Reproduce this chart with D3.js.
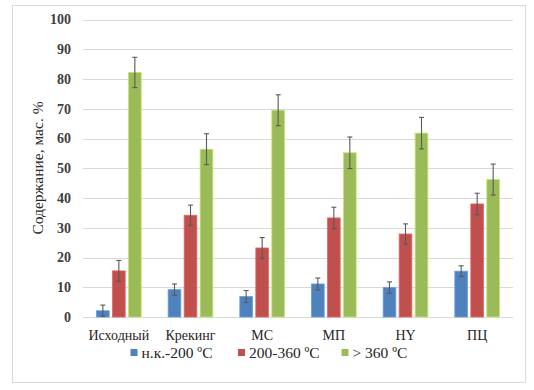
<!DOCTYPE html>
<html>
<head>
<meta charset="utf-8">
<script src="https://cdn.jsdelivr.net/npm/d3@7"></script>
<style>
	body{margin:0;background:#fff;}
	svg text{font-family:"Liberation Serif","Tinos","Times New Roman","DejaVu Serif",serif !important;}
</style>
</head>
<body>
<div id="chart"></div>
<script>
// data
var categories = ["Исходный", "Крекинг", "МС", "МП", "НY", "ПЦ"];
var seriesNames = ["н.к.-200 ºC", "200-360 ºC", "> 360 ºC"];
var lowValues = [2.1, 9.2, 6.9, 11.1, 9.9, 15.4];
var midValues = [15.5, 34.2, 23.2, 33.3, 27.9, 38.0];
var highValues = [82.2, 56.4, 69.5, 55.2, 61.8, 46.2];
var lowErr = [1.9, 1.9, 2.0, 2.0, 1.9, 1.8];
var midErr = [3.5, 3.4, 3.5, 3.6, 3.4, 3.6];
var highErr = [5.1, 5.2, 5.2, 5.3, 5.3, 5.2];
var yTicks = [0, 10, 20, 30, 40, 50, 60, 70, 80, 90, 100];
var colors = ["#4f81bd", "#c0504d", "#9bbb59"];

;(function(d3){
	var width = 534, height = 390;
	var svg = d3.select("#chart").append("svg").attr("width", width).attr("height", height);

	// outer frame
	svg.append("rect").attr("x", 12.5).attr("y", 5.5).attr("width", 513).attr("height", 377)
		.attr("fill", "#fff").attr("stroke", "#d9d9d9").attr("stroke-width", 1);

	var x = d3.scaleBand().domain(categories).range([83, 513]),
		y = d3.scaleLinear().domain([0, 100]).range([317, 19.5]);
	var barW = 12.7, step = 16;

	// grid
	svg.append("g").selectAll("line").data(yTicks).join("line")
		.attr("x1", 83).attr("x2", 513)
		.attr("y1", function(d){ return Math.round(y(d)) + .5; })
		.attr("y2", function(d){ return Math.round(y(d)) + .5; })
		.attr("stroke", "#d9d9d9").attr("stroke-width", 1);

	// y axis labels
	var yAxis = svg.append("g").attr("transform", "translate(83,0)")
		.call(d3.axisLeft(y).tickValues(yTicks).tickSize(0).tickPadding(12));
	yAxis.select(".domain").remove();
	yAxis.attr("font-family", null);
	yAxis.selectAll("text").attr("font-size", 14).attr("fill", "#404040")
		.attr("font-weight", "bold");

	// x axis labels
	var xAxis = svg.append("g").attr("transform", "translate(0,317)")
		.call(d3.axisBottom(x).tickSize(0).tickPadding(13));
	xAxis.select(".domain").remove();
	xAxis.attr("font-family", null);
	xAxis.selectAll("text").attr("font-size", 14).attr("fill", "#262626");

	svg.append("text").attr("transform", "translate(43,168) rotate(-90)")
		.attr("text-anchor", "middle").attr("font-size", 15.5).attr("fill", "#262626")
		.text("Содержание, мас. %");

	var series = [
		{values: lowValues, err: lowErr},
		{values: midValues, err: midErr},
		{values: highValues, err: highErr}
	];
	series.forEach(function(s, si){
		var g = svg.append("g");
		var cx = function(d, i){ return x(categories[i]) + x.bandwidth() / 2 + (si - 1) * step; };
		g.selectAll("rect").data(s.values).join("rect")
			.attr("x", function(d, i){ return cx(d, i) - barW / 2; })
			.attr("y", function(d){ return y(d); })
			.attr("width", barW)
			.attr("height", function(d){ return y(0) - y(d); })
			.attr("fill", colors[si])
			.attr("stroke", d3.color(colors[si]).brighter(0.6))
			.attr("stroke-width", 0.8);
		// error bars
		var eb = g.selectAll("g.err").data(s.values).join("g").attr("class", "err");
		eb.append("line")
			.attr("x1", cx).attr("x2", cx)
			.attr("y1", function(d, i){ return y(d + s.err[i]); })
			.attr("y2", function(d, i){ return y(d - s.err[i]); });
		eb.append("line")
			.attr("x1", function(d, i){ return cx(d, i) - 2.5; })
			.attr("x2", function(d, i){ return cx(d, i) + 2.5; })
			.attr("y1", function(d, i){ return y(d + s.err[i]); })
			.attr("y2", function(d, i){ return y(d + s.err[i]); });
		eb.append("line")
			.attr("x1", function(d, i){ return cx(d, i) - 2.5; })
			.attr("x2", function(d, i){ return cx(d, i) + 2.5; })
			.attr("y1", function(d, i){ return y(d - s.err[i]); })
			.attr("y2", function(d, i){ return y(d - s.err[i]); });
		eb.selectAll("line").attr("stroke", "#595959").attr("stroke-width", 1.1);
	});

	// legend
	var legendX = [130.5, 238, 341.5];
	var legend = svg.append("g").selectAll("g").data(seriesNames).join("g")
		.attr("transform", function(d, i){ return "translate(" + legendX[i] + ",349)"; });
	legend.append("rect").attr("width", 7).attr("height", 7).attr("fill", function(d, i){ return colors[i]; });
	legend.append("text").attr("x", 11).attr("y", 8.5).attr("font-size", 15.5).attr("fill", "#262626")
		.text(function(d){ return d; });
})(d3);
</script>
</body>
</html>
